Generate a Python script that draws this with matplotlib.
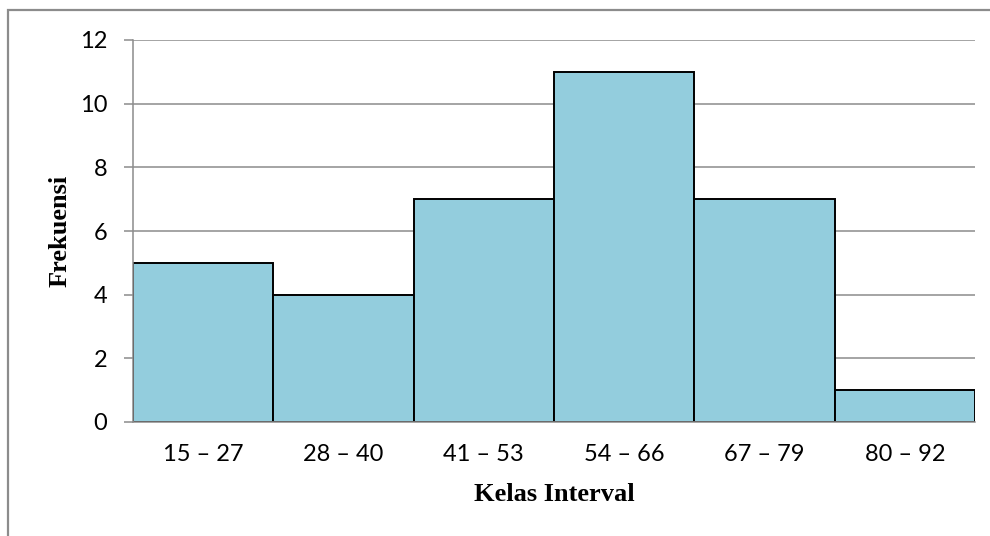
import matplotlib.pyplot as plt
from matplotlib.patches import Rectangle

# Frequency distribution per class interval
kelas = ['15 – 27', '28 – 40', '41 – 53', '54 – 66', '67 – 79', '80 – 92']
frekuensi = [5, 4, 7, 11, 7, 1]

fig = plt.figure(figsize=(9.9, 5.36), dpi=100)
ax = fig.add_axes([133 / 990, 1 - 422 / 536, 842 / 990, 382 / 536])

# outer chart frame (only top and left edges fall inside the image)
fig.patches.append(Rectangle((8 / 990, -0.1), 1.2, 1 - 10 / 536 + 0.1,
                             transform=fig.transFigure, fill=False,
                             edgecolor='#8c8c8c', linewidth=1.6, zorder=0))

x = range(len(kelas))
ax.bar(x, frekuensi, width=1.0, color='#93CDDD', edgecolor='black',
       linewidth=1.4, zorder=3)

ax.set_xlim(-0.5, len(kelas) - 0.5)
ax.set_ylim(0, 12)
ax.set_yticks(range(0, 13, 2))
ax.set_xticks(list(x))
ax.set_xticklabels(kelas)

ax.grid(axis='y', color='#8c8c8c', linewidth=1.1, zorder=0)
for s in ['top', 'right']:
    ax.spines[s].set_visible(False)
for s in ['left', 'bottom']:
    ax.spines[s].set_color('#8c8c8c')
    ax.spines[s].set_linewidth(1.1)
    ax.spines[s].set_zorder(4)

ax.tick_params(axis='y', length=6.5, width=1.1, color='#8c8c8c', pad=12,
               labelsize=17)
ax.tick_params(axis='x', length=0, pad=16, labelsize=17)
for lbl in ax.get_xticklabels() + ax.get_yticklabels():
    lbl.set_fontfamily('Lato')

ax.set_xlabel('Kelas Interval', family='Liberation Serif', fontweight='bold',
              fontsize=19, labelpad=13)
ax.set_ylabel('Frekuensi', family='Liberation Serif', fontweight='bold',
              fontsize=19, labelpad=6)

fig.savefig('out.png', dpi=100)
